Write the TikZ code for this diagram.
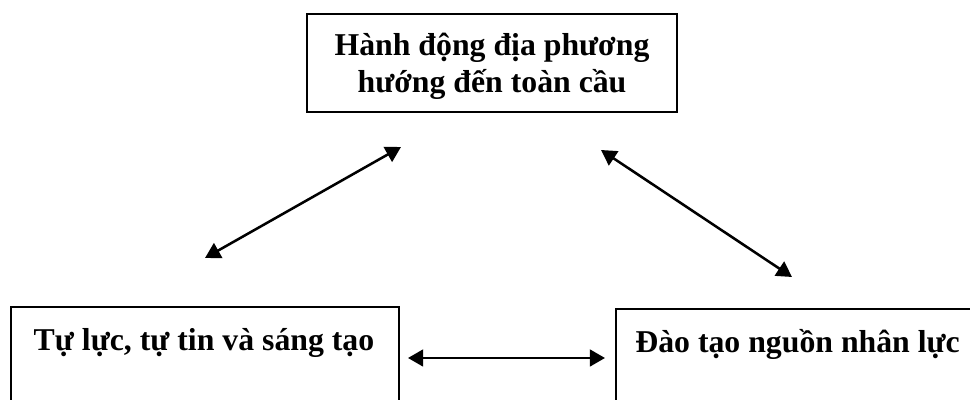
\documentclass[tikz,border=0pt]{standalone}
\usepackage{fontspec}
\setmainfont{Liberation Serif}
\usepackage{tikz}
\usetikzlibrary{arrows.meta}

\begin{document}
\begin{tikzpicture}[
  box/.style={draw=black, line width=1.2pt, rectangle, inner sep=0pt},
  boxtext/.style={font=\fontsize{22.6}{26.5}\selectfont\bfseries, align=center, inner sep=0pt},
  link/.style={black, line width=1.8pt, {Triangle[length=0.38cm,width=0.42cm]}-{Triangle[length=0.38cm,width=0.42cm]}}
]
\useasboundingbox (0,0) rectangle (24.25,10);
\clip (0,0) rectangle (24.25,10);

\node [box, minimum width=9.25cm, minimum height=2.45cm] (local) at (12.3,8.425) {};
\node [boxtext] (localtext) at (12.3,8.35) {Hành động địa phương\\hướng đến toàn cầu};

\node [box, anchor=north west, minimum width=9.7cm, minimum height=3.5cm] (self) at (0.25,2.35) {};
\node [boxtext] (selftext) at (5.1,1.42) {Tự lực, tự tin và sáng tạo};

\node [box, anchor=north west, minimum width=10cm, minimum height=3.5cm] (train) at (15.375,2.3) {};
\node [boxtext] (traintext) at (19.94,1.4) {Đào tạo nguồn nhân lực};

\coordinate (a1) at (5.125,3.55);
\coordinate (a2) at (10.025,6.325);
\coordinate (b1) at (15.025,6.25);
\coordinate (b2) at (19.8,3.075);
\coordinate (c1) at (10.2,1.05);
\coordinate (c2) at (15.125,1.05);

\draw [link] (a1) -- (a2);
\draw [link] (b1) -- (b2);
\draw [link] (c1) -- (c2);
\end{tikzpicture}
\end{document}
